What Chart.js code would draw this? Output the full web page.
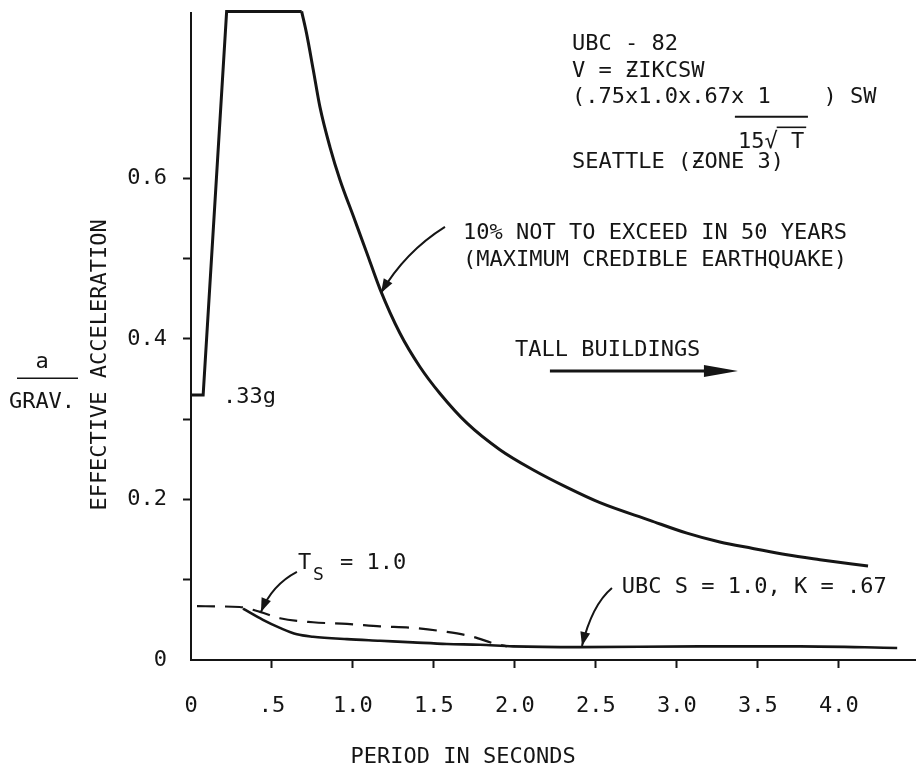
<!DOCTYPE html>
<html><head><meta charset="utf-8">
<script src="https://cdn.jsdelivr.net/npm/chart.js@4.4.1/dist/chart.umd.min.js"></script>
<style>html,body{margin:0;padding:0;background:#fff}#wrap{width:920px;height:768px}</style>
</head><body><div id="wrap"><canvas id="c" width="920" height="768"></canvas></div>
<script>
// ---- axis ticks ----
const periodTicks = [0, 0.5, 1.0, 1.5, 2.0, 2.5, 3.0, 3.5, 4.0];
const periodTickLabels = ['0', '.5', '1.0', '1.5', '2.0', '2.5', '3.0', '3.5', '4.0'];
const accelTicks = [0, 0.1, 0.2, 0.3, 0.4, 0.5, 0.6];
const accelTickLabels = ['0', '', '0.2', '', '0.4', '', '0.6'];

// ---- 10% in 50 years (maximum credible earthquake) spectrum ----
const mceRisePeriod = [0, 0.075, 0.22, 0.683];
const mceRiseAccel  = [0.33, 0.33, 0.808, 0.808];
const mceDecayPeriod = [0.683, 0.714, 0.755, 0.796, 0.858, 0.92, 1.002, 1.084, 1.167, 1.29, 1.414, 1.537, 1.704, 1.907, 2.111, 2.321, 2.525, 2.833, 3.062, 3.265, 3.469, 3.679, 3.883, 4.18];
const mceDecayAccel  = [0.808, 0.780, 0.735, 0.689, 0.639, 0.598, 0.553, 0.508, 0.462, 0.407, 0.365, 0.332, 0.295, 0.262, 0.237, 0.215, 0.196, 0.174, 0.158, 0.147, 0.139, 0.131, 0.125, 0.117];

// ---- Ts = 1.0 (dashed) ----
const tsPeriod = [0.037, 0.30, 0.426, 0.549, 0.753, 0.963, 1.167, 1.37, 1.58, 1.74, 1.864, 1.95];
const tsAccel  = [0.067, 0.066, 0.060, 0.052, 0.047, 0.045, 0.042, 0.040, 0.035, 0.029, 0.021, 0.017];

// ---- UBC S = 1.0, K = .67 (solid) ----
const ubcPeriod = [0.321, 0.444, 0.549, 0.654, 0.753, 0.963, 1.167, 1.37, 1.58, 1.784, 1.988, 2.40, 3.14, 3.76, 4.36];
const ubcAccel  = [0.064, 0.050, 0.040, 0.032, 0.029, 0.026, 0.024, 0.022, 0.020, 0.019, 0.017, 0.016, 0.017, 0.017, 0.015];

const zip = (xs, ys) => xs.map((x, i) => ({x: x, y: ys[i]}));

const INK = '#151515';
const FONT = "'DejaVu Sans Mono', monospace";
const FS = 22;

const annotations = {
  id: 'annotations',
  afterDraw(chart) {
    const c = chart.ctx, xs = chart.scales.x, ys = chart.scales.y;
    const X = v => xs.getPixelForValue(v), Y = v => ys.getPixelForValue(v);
    c.save();
    c.fillStyle = INK; c.strokeStyle = INK;
    c.font = FS + 'px ' + FONT;
    c.textBaseline = 'middle';
    const txt = (s, xv, yv, align) => { c.textAlign = align || 'left'; c.fillText(s, X(xv), Y(yv)); };
    const head = (tx, ty, fx, fy, len, half) => {
      const a = Math.atan2(ty - fy, tx - fx);
      c.beginPath();
      c.moveTo(tx, ty);
      c.lineTo(tx - len * Math.cos(a) + half * Math.sin(a), ty - len * Math.sin(a) - half * Math.cos(a));
      c.lineTo(tx - len * Math.cos(a) - half * Math.sin(a), ty - len * Math.sin(a) + half * Math.cos(a));
      c.closePath(); c.fill();
    };
    const curvedArrow = (sx, sy, cx, cy, tx, ty) => {
      c.lineWidth = 2;
      c.beginPath(); c.moveTo(X(sx), Y(sy)); c.quadraticCurveTo(X(cx), Y(cy), X(tx), Y(ty)); c.stroke();
      head(X(tx), Y(ty), X(cx), Y(cy), 14, 5);
    };

    // top-right formula block
    txt('UBC - 82', 2.352, 0.7676);
    txt('V = ƵIKCSW', 2.352, 0.734);
    txt('(.75x1.0x.67x 1    ) SW', 2.352, 0.7016);
    c.lineWidth = 2;
    c.beginPath(); c.moveTo(X(3.358), Y(0.6766)); c.lineTo(X(3.809), Y(0.6766)); c.stroke();
    txt('15√ T', 3.377, 0.6455);
    const l0 = X(3.377), ycen = Y(0.6455);
    const w1 = c.measureText('15√').width, w2 = c.measureText('15√ T').width;
    c.lineWidth = 1.6;
    c.beginPath(); c.moveTo(l0 + w1 - 1, ycen - FS * 0.66); c.lineTo(l0 + w2 + 2, ycen - FS * 0.66); c.stroke();
    txt('SEATTLE (ƵONE 3)', 2.352, 0.6206);

    // MCE label + arrow
    txt('10% NOT TO EXCEED IN 50 YEARS', 1.679, 0.532);
    txt('(MAXIMUM CREDIBLE EARTHQUAKE)', 1.679, 0.4984);
    curvedArrow(1.568, 0.5396, 1.321, 0.5084, 1.173, 0.4573);

    // tall buildings
    txt('TALL BUILDINGS', 2.0, 0.3863);
    c.lineWidth = 3;
    c.beginPath(); c.moveTo(X(2.216), Y(0.3601)); c.lineTo(X(3.2), Y(0.3601)); c.stroke();
    head(X(3.377), Y(0.3601), X(2.216), Y(0.3601), 34, 6);

    txt('.33g', 0.198, 0.3277);

    // Ts = 1.0
    txt('T', 0.66, 0.1209);
    c.font = '18px ' + FONT; txt('S', 0.753, 0.1059);
    c.font = FS + 'px ' + FONT; txt('= 1.0', 0.92, 0.1209);
    curvedArrow(0.654, 0.1097, 0.5, 0.0935, 0.432, 0.0598);

    // UBC label
    txt('UBC S = 1.0, K = .67', 2.66, 0.091);
    curvedArrow(2.599, 0.0897, 2.475, 0.0685, 2.414, 0.0174);

    // left-side y labels
    const ca = chart.chartArea;
    c.textAlign = 'center';
    c.fillText('a', ca.left - 149, Y(0.371));
    c.lineWidth = 1.6;
    c.beginPath(); c.moveTo(ca.left - 174, Y(0.351)); c.lineTo(ca.left - 113, Y(0.351)); c.stroke();
    c.fillText('GRAV.', ca.left - 149, Y(0.3215));
    c.save();
    c.translate(ca.left - 91, Y(0.3676));
    c.rotate(-Math.PI / 2);
    c.fillText('EFFECTIVE ACCELERATION', 0, 0);
    c.restore();

    // x title
    c.fillText('PERIOD IN SECONDS', X(1.68), 757);
    c.restore();
  }
};

const lineBase = {borderColor: INK, pointRadius: 0, fill: false};
const noPad = s => { s.paddingTop = 0; s.paddingBottom = 0; s.paddingLeft = 0; s.paddingRight = 0; };
new Chart(document.getElementById('c'), {
  type: 'line',
  data: {datasets: [
    Object.assign({data: zip(mceRisePeriod, mceRiseAccel), borderWidth: 3, tension: 0, clip: false}, lineBase),
    Object.assign({data: zip(mceDecayPeriod, mceDecayAccel), borderWidth: 3, cubicInterpolationMode: 'monotone', clip: false}, lineBase),
    Object.assign({data: zip(tsPeriod, tsAccel), borderWidth: 2.2, borderDash: [18, 10], cubicInterpolationMode: 'monotone'}, lineBase),
    Object.assign({data: zip(ubcPeriod, ubcAccel), borderWidth: 2.6, cubicInterpolationMode: 'monotone'}, lineBase)
  ]},
  options: {
    responsive: false, animation: false,
    layout: {padding: {top: 13, right: 5, left: 0, bottom: 0}},
    plugins: {legend: {display: false}, tooltip: {enabled: false}},
    scales: {
      x: {
        type: 'linear', min: 0, max: 4.47,
        afterBuildTicks: s => { s.ticks = periodTicks.map(v => ({value: v})); },
        afterFit: s => { s.height = 108; noPad(s); },
        ticks: {callback: v => periodTickLabels[periodTicks.indexOf(v)], font: {family: FONT, size: FS}, color: INK, padding: 25, maxRotation: 0, autoSkip: false},
        grid: {drawOnChartArea: false, tickLength: 8, tickWidth: 2, tickColor: ctx => (ctx.tick && ctx.tick.value === 0) ? 'rgba(0,0,0,0)' : INK},
        border: {color: INK, width: 2}
      },
      y: {
        type: 'linear', min: 0, max: 0.806,
        afterBuildTicks: s => { s.ticks = accelTicks.map(v => ({value: v})); },
        afterFit: s => { s.width = 191; noPad(s); },
        ticks: {callback: v => accelTickLabels[accelTicks.indexOf(v)], font: {family: FONT, size: FS}, color: INK, padding: 16, autoSkip: false},
        grid: {drawOnChartArea: false, tickLength: 8, tickWidth: 2, tickColor: ctx => (ctx.tick && ctx.tick.value === 0) ? 'rgba(0,0,0,0)' : INK},
        border: {color: INK, width: 2}
      }
    }
  },
  plugins: [annotations]
});
</script>
</body></html>
